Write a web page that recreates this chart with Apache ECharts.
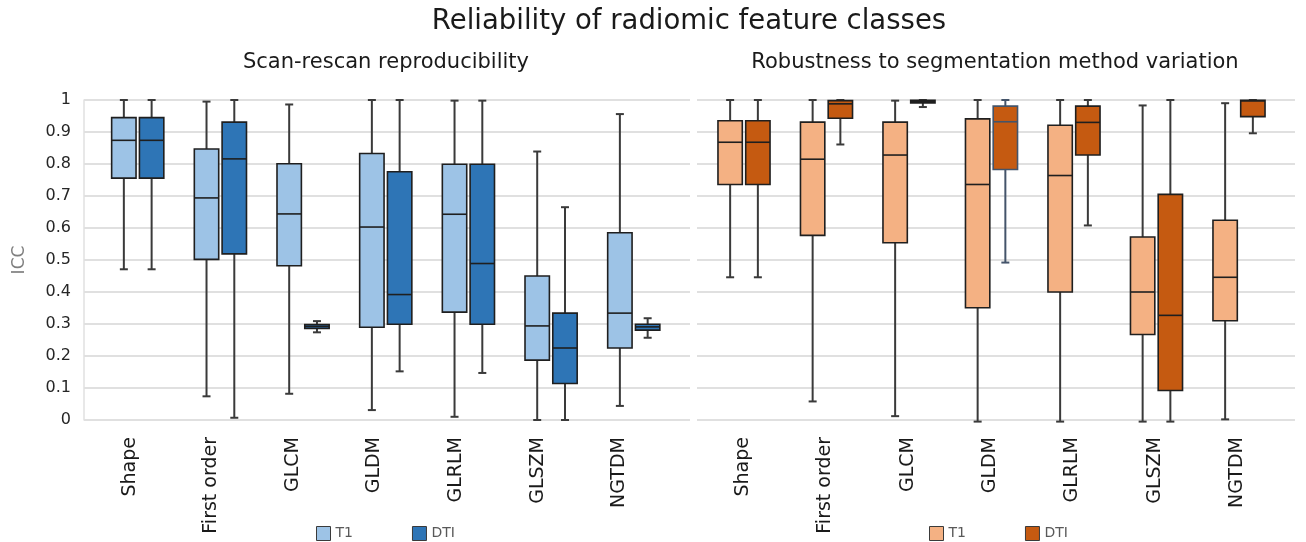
<!DOCTYPE html>
<html>
<head>
<meta charset="utf-8">
<script src="https://cdn.jsdelivr.net/npm/echarts@6/dist/echarts.min.js"></script>
<style>
html,body{margin:0;padding:0;background:#ffffff;}
#chart{width:1306px;height:542px;}
</style>
</head>
<body>
<div id="chart"></div>
<script>
// ---------- data ----------
const categories = ['Shape', 'First order', 'GLCM', 'GLDM', 'GLRLM', 'GLSZM', 'NGTDM'];
const yTickLabels = ['0', '0.1', '0.2', '0.3', '0.4', '0.5', '0.6', '0.7', '0.8', '0.9', '1'];
const legendNames = ['T1', 'DTI'];
const chartTitle = 'Reliability of radiomic feature classes';
const panelTitles = ['Scan-rescan reproducibility', 'Robustness to segmentation method variation'];
const yAxisName = 'ICC';

// each row: [min, Q1, median, Q3, max]
const scanT1 = [
  [0.471, 0.756, 0.874, 0.945, 1.000],
  [0.074, 0.502, 0.694, 0.847, 0.995],
  [0.082, 0.482, 0.644, 0.801, 0.986],
  [0.031, 0.290, 0.603, 0.833, 1.000],
  [0.010, 0.337, 0.643, 0.799, 0.998],
  [0.000, 0.187, 0.294, 0.450, 0.839],
  [0.044, 0.225, 0.334, 0.585, 0.956]
];
const scanDTI = [
  [0.471, 0.756, 0.874, 0.945, 1.000],
  [0.007, 0.519, 0.816, 0.931, 1.000],
  [0.274, 0.286, 0.292, 0.298, 0.309],
  [0.152, 0.299, 0.392, 0.776, 1.000],
  [0.147, 0.299, 0.489, 0.799, 0.998],
  [0.000, 0.114, 0.225, 0.334, 0.665],
  [0.257, 0.281, 0.291, 0.299, 0.318]
];
const segT1 = [
  [0.446, 0.736, 0.868, 0.935, 1.000],
  [0.058, 0.577, 0.815, 0.931, 1.000],
  [0.012, 0.554, 0.828, 0.931, 0.998],
  [-0.005, 0.351, 0.736, 0.941, 1.000],
  [-0.005, 0.400, 0.764, 0.921, 1.000],
  [-0.005, 0.267, 0.400, 0.572, 0.983],
  [0.002, 0.310, 0.446, 0.624, 0.990]
];
const segDTI = [
  [0.446, 0.736, 0.868, 0.935, 1.000],
  [0.861, 0.943, 0.988, 0.998, 1.000],
  [0.978, 0.991, 0.995, 0.999, 1.000],
  [0.492, 0.783, 0.932, 0.981, 1.000],
  [0.608, 0.828, 0.930, 0.981, 1.000],
  [-0.005, 0.092, 0.327, 0.705, 1.000],
  [0.896, 0.948, 0.997, 0.999, 1.000]
];

// ---------- style ----------
const FONT = 'DejaVu Sans';
const COLORS = {
  scanT1: '#9dc3e6', scanDTI: '#2e75b6',
  segT1: '#f4b183', segDTI: '#c55a11'
};
const OUTLINE = '#1f1f1f';
const WHISKER = '#3a3a3a';
const GRIDLINE = '#e0e0e0';
const SPECIAL_OUTLINE = { key: 'segDTI', index: 3, color: '#44546a' };
const BOX_FRAC = 0.295;   // box width as fraction of band
const PAIR_OFF = 0.168;   // centre offset as fraction of band
const CAP = 8;

const PLOT_TOP = 100, PLOT_H = 320;

function toRows(arr) { return arr.map((r, i) => [i].concat(r)); }

function boxRenderer(key, sign) {
  return function (params, api) {
    const c = api.value(0);
    const band = api.size([1, 0])[0];
    const cx = api.coord([c, 0])[0] + sign * band * PAIR_OFF;
    const yv = k => api.coord([c, api.value(k)])[1];
    const yMin = yv(1), yQ1 = yv(2), yMed = yv(3), yQ3 = yv(4), yMax = yv(5);
    const bw = band * BOX_FRAC;
    const special = key === SPECIAL_OUTLINE.key && params.dataIndex === SPECIAL_OUTLINE.index;
    const ol = special ? SPECIAL_OUTLINE.color : OUTLINE;
    const wc = special ? SPECIAL_OUTLINE.color : WHISKER;
    const ws = { stroke: wc, lineWidth: 2 };
    return {
      type: 'group',
      children: [
        { type: 'line', shape: { x1: cx, y1: yMax, x2: cx, y2: yQ3 }, style: ws },
        { type: 'line', shape: { x1: cx, y1: yQ1, x2: cx, y2: yMin }, style: ws },
        { type: 'line', shape: { x1: cx - CAP / 2, y1: yMax, x2: cx + CAP / 2, y2: yMax }, style: ws },
        { type: 'line', shape: { x1: cx - CAP / 2, y1: yMin, x2: cx + CAP / 2, y2: yMin }, style: ws },
        { type: 'rect', shape: { x: cx - bw / 2, y: yQ3, width: bw, height: yQ1 - yQ3 },
          style: { fill: COLORS[key], stroke: ol, lineWidth: 1.6 } },
        { type: 'line', shape: { x1: cx - bw / 2, y1: yMed, x2: cx + bw / 2, y2: yMed },
          style: { stroke: ol, lineWidth: 1.6 } }
      ]
    };
  };
}

function boxSeries(name, key, sign, data, axisIdx) {
  return {
    name: name, type: 'custom',
    xAxisIndex: axisIdx, yAxisIndex: axisIdx,
    renderItem: boxRenderer(key, sign),
    encode: { x: 0, y: [1, 2, 3, 4, 5] },
    itemStyle: { color: COLORS[key] },
    data: toRows(data),
    z: 3
  };
}

// grids: 0 left bg, 1 left boxes, 2 left labels, 3 right bg, 4 right boxes, 5 right labels
const grids = [
  { left: 84, width: 606 },
  { left: 96.4, width: 578.7 },
  { left: 88.9, width: 571.2 },
  { left: 697, width: 598 },
  { left: 702.75, width: 577.5 },
  { left: 702, width: 576 }
].map(g => Object.assign({ top: PLOT_TOP, height: PLOT_H, containLabel: false }, g));

const xAxes = grids.map((g, i) => {
  const isLabel = (i === 2 || i === 5);
  const isBox = (i === 1 || i === 4);
  if (isLabel || isBox) {
    return {
      type: 'category', gridIndex: i, data: categories, boundaryGap: true,
      axisLine: { show: false }, axisTick: { show: false }, splitLine: { show: false },
      axisLabel: isLabel ? {
        show: true, rotate: 90, margin: 17, interval: 0,
        fontFamily: FONT, fontSize: 19, color: '#1a1a1a'
      } : { show: false }
    };
  }
  return { type: 'value', gridIndex: i, min: 0, max: 1, show: false };
});

const yAxes = grids.map((g, i) => {
  const base = { type: 'value', gridIndex: i, min: 0, max: 1, interval: 0.1 };
  if (i === 0) {
    return Object.assign(base, {
      name: yAxisName, nameLocation: 'middle', nameGap: 56, nameRotate: 90,
      nameTextStyle: { fontFamily: FONT, fontSize: 17, color: '#7f7f7f' },
      axisLine: { show: true, lineStyle: { color: GRIDLINE, width: 1.5 } },
      axisTick: { show: false },
      axisLabel: { show: true, margin: 13, fontFamily: FONT, fontSize: 16, color: '#262626',
        formatter: v => yTickLabels[Math.round(v * 10)] },
      splitLine: { show: true, lineStyle: { color: GRIDLINE, width: 2 } }
    });
  }
  if (i === 3) {
    return Object.assign(base, {
      axisLine: { show: false }, axisTick: { show: false }, axisLabel: { show: false },
      splitLine: { show: true, lineStyle: { color: GRIDLINE, width: 2 } }
    });
  }
  return Object.assign(base, { show: false, splitLine: { show: false } });
});

function legendFor(left, keyT1, keyDTI) {
  return {
    left: left, top: 521, orient: 'horizontal', icon: 'rect',
    itemWidth: 14, itemHeight: 14, itemGap: 59, selectedMode: false,
    textStyle: { fontFamily: FONT, fontSize: 14, color: '#595959' },
    data: [
      { name: legendNames[0], itemStyle: { color: COLORS[keyT1], borderColor: '#3a3a3a', borderWidth: 1 } },
      { name: legendNames[1], itemStyle: { color: COLORS[keyDTI], borderColor: '#3a3a3a', borderWidth: 1 } }
    ]
  };
}

const option = {
  animation: false,
  backgroundColor: '#ffffff',
  textStyle: { fontFamily: FONT },
  graphic: [
    { type: 'text', x: 689, y: 22, style: { text: chartTitle, fontFamily: FONT, fontSize: 27.5,
        fill: '#1a1a1a', align: 'center', verticalAlign: 'middle' } },
    { type: 'text', x: 386, y: 63, style: { text: panelTitles[0], fontFamily: FONT, fontSize: 21,
        fill: '#1a1a1a', align: 'center', verticalAlign: 'middle' } },
    { type: 'text', x: 995, y: 63, style: { text: panelTitles[1], fontFamily: FONT, fontSize: 21,
        fill: '#1a1a1a', align: 'center', verticalAlign: 'middle' } }
  ],
  legend: [legendFor(311, 'scanT1', 'scanDTI'), legendFor(924, 'segT1', 'segDTI')],
  grid: grids,
  xAxis: xAxes,
  yAxis: yAxes,
  series: [
    boxSeries(legendNames[0], 'scanT1', -1, scanT1, 1),
    boxSeries(legendNames[1], 'scanDTI', 1, scanDTI, 1),
    boxSeries(legendNames[0], 'segT1', -1, segT1, 4),
    boxSeries(legendNames[1], 'segDTI', 1, segDTI, 4)
  ]
};

const chart = echarts.init(document.getElementById('chart'), null, { renderer: 'canvas' });
chart.setOption(option);
</script>
</body>
</html>
